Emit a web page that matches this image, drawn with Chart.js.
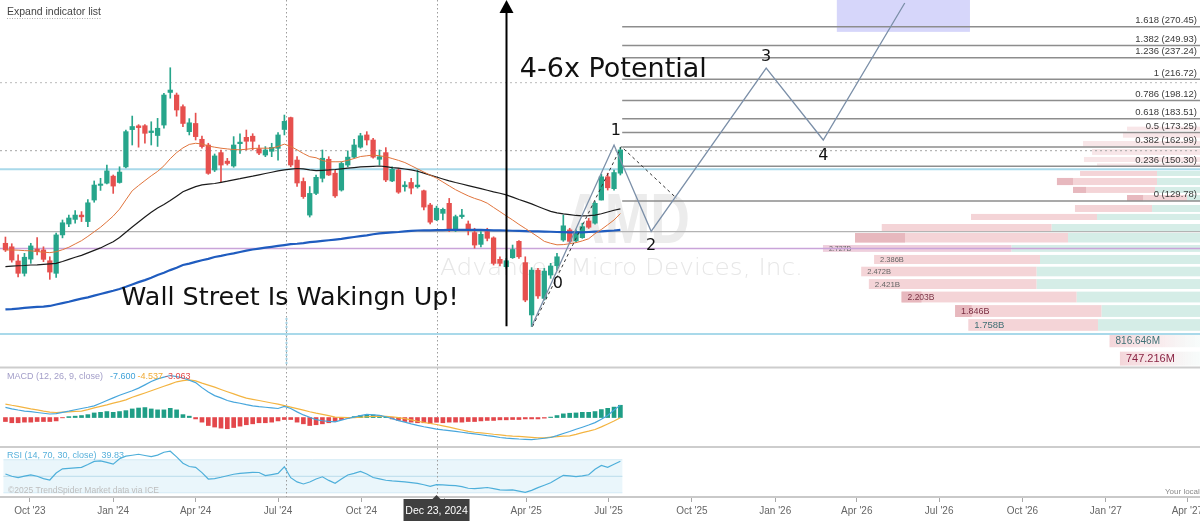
<!DOCTYPE html>
<html><head><meta charset="utf-8">
<script src="https://cdn.jsdelivr.net/npm/chart.js@4.4.1/dist/chart.umd.min.js"></script>
<style>html,body{margin:0;padding:0;background:#fff;overflow:hidden}</style>
</head><body>
<canvas id="c" width="1200" height="521"></canvas>
<script>
// ---------- DATA ----------
const FIRST_WEEK = '2023-09-04';   // weekly candles, Monday of each week
const OPEN = [108.6,107.0,100.8,95.7,101.6,106.0,105.6,100.9,95.7,112.5,117.8,120.1,122.3,119.0,130.3,138.6,139.9,144.1,140.3,149.8,175.3,178.1,178.2,173.1,171.0,178.7,205.0,202.8,193.1,173.8,179.9,168.3,164.3,147.9,159.1,153.5,150.4,165.2,169.7,170.5,161.7,157.5,160.0,162.0,175.4,184.4,154.2,140.9,122.3,134.0,142.8,154.7,145.9,135.9,151.0,156.1,162.8,171.4,167.8,154.7,159.1,141.2,147.9,137.8,140.3,137.8,135.5,127.6,119.9,123.2,128.5,114.9,121.5,117.8,113.6,108.1,114.1,111.1,101.5,98.4,102.2,109.5,100.1,80.3,97.0,86.1,95.0,98.8,110.1,114.9,109.7,111.2,119.3,118.2,130.3,143.7,136.7,145.9];
const HIGH = [111.5,108.4,103.4,104.1,108.6,111.2,107.0,102.6,113.4,119.8,122.3,124.6,124.1,130.6,141.2,142.8,151.0,144.8,149.9,175.0,185.6,179.0,179.0,181.2,183.8,204.2,227.5,204.5,194.5,183.6,187.9,170.5,165.5,158.2,160.9,155.3,170.2,172.3,175.0,172.3,164.3,163.2,165.5,173.1,186.4,184.8,156.4,143.0,137.9,144.8,160.9,156.4,147.9,153.0,160.3,168.3,172.6,173.8,168.9,160.9,162.5,149.9,149.0,140.8,142.8,147.9,135.9,128.5,127.0,125.9,131.2,122.3,125.3,119.3,115.7,114.1,115.7,111.6,102.6,101.9,107.8,109.8,102.6,98.0,97.7,97.7,99.8,104.1,122.3,115.7,114.9,118.2,120.6,129.4,145.2,145.9,147.9,162.7];
const LOW = [104.9,100.3,94.3,94.6,99.8,103.4,100.5,93.3,94.1,111.1,116.5,118.2,119.0,116.5,129.1,135.7,139.4,134.0,139.9,149.2,164.3,162.8,165.5,164.3,163.3,176.3,200.1,185.5,177.4,171.4,167.8,162.1,145.2,146.9,140.8,151.0,149.6,158.6,160.9,160.9,157.8,156.4,156.4,154.2,171.4,149.9,138.0,131.2,121.3,133.3,140.6,144.5,131.8,135.3,149.9,155.4,162.1,164.3,155.4,151.0,140.8,140.8,134.0,135.3,133.7,137.0,125.0,117.8,119.5,119.8,114.1,114.1,120.6,112.5,106.4,107.0,109.7,99.1,98.7,97.7,101.9,101.9,84.9,76.48,86.1,85.5,93.7,97.0,109.5,108.6,109.2,110.9,115.6,117.7,130.3,135.9,135.9,144.8];
const CLOSE = [105.6,101.2,95.7,102.4,107.4,104.9,101.5,96.2,112.5,118.4,120.8,122.3,121.4,128.8,138.8,139.4,147.3,138.2,146.6,173.8,177.6,176.8,172.6,174.3,176.3,202.8,207.1,190.4,179.9,180.4,170.2,163.2,145.8,156.9,151.0,152.0,164.3,166.3,166.9,166.9,158.8,160.9,162.7,171.4,181.5,151.0,140.0,132.2,134.0,143.4,155.4,144.8,132.6,152.0,156.1,164.3,170.8,167.8,156.1,156.4,141.8,148.3,134.7,138.8,137.0,138.8,126.5,118.7,125.9,125.3,114.9,121.5,122.3,114.9,107.8,112.8,110.9,99.8,99.8,100.9,105.8,102.6,85.5,97.0,87.0,96.6,98.7,102.6,116.9,109.5,114.1,116.5,116.2,128.5,143.7,137.2,146.3,160.9];
const MA_FAST = [105.6,105.6,105.5,105.3,105.2,104.9,104.6,104.4,104.8,105.7,106.8,108.3,109.8,111.8,114.0,116.2,118.9,121.8,125.4,130.4,135.5,138.5,141.4,144.3,147.0,150.5,155.1,159.1,162.3,164.7,165.5,165.0,163.6,162.8,162.1,161.6,161.2,161.0,161.4,161.9,162.1,162.1,162.1,163.3,164.9,163.3,161.0,158.5,156.4,155.7,153.9,153.1,153.1,153.1,154.0,155.2,156.5,157.0,157.5,157.0,156.4,155.2,154.0,152.6,150.6,148.6,146.6,144.7,142.9,140.6,138.3,136.1,134.3,132.6,131.2,130.1,128.6,126.3,124.1,121.9,119.8,117.6,115.6,113.6,111.6,109.5,108.6,107.9,108.0,108.4,108.9,109.7,110.7,113.1,115.1,117.4,119.8,123.1];
const MA_MID = [98.4,98.6,98.8,98.9,99.1,99.2,99.4,99.6,99.8,100.6,101.5,102.4,103.2,104.3,105.4,106.5,107.9,109.3,111.3,113.8,116.3,118.8,121.3,123.8,126.0,127.9,130.0,132.4,134.9,136.4,137.9,138.9,139.3,139.7,140.4,141.1,141.9,142.6,143.4,144.1,144.9,145.7,146.5,147.3,147.9,148.4,148.8,148.6,148.0,147.5,147.7,147.9,148.2,148.6,149.0,149.4,149.8,150.0,150.2,150.4,150.0,149.4,149.0,148.5,148.0,147.1,145.9,144.7,143.6,142.4,141.3,140.3,139.4,138.5,137.6,136.7,135.8,134.9,134.1,133.2,131.9,130.6,129.4,128.2,126.8,125.5,124.2,123.4,122.9,122.5,122.1,121.9,122.0,122.3,123.0,123.9,124.8,125.5];
const MA_SLOW = [82.2,82.3,82.5,82.7,82.9,83.1,83.2,83.4,83.9,84.4,84.9,85.5,86.0,86.5,87.1,87.7,88.3,88.9,89.6,90.4,91.3,92.2,93.0,93.9,95.0,95.9,97.0,98.0,99.1,99.7,100.4,101.1,101.7,102.5,103.0,103.6,104.1,104.7,105.3,105.8,106.2,106.6,107.0,107.4,107.8,108.2,108.4,108.7,109.1,109.4,109.7,110.0,110.3,110.6,111.1,111.5,111.9,112.3,112.8,113.2,113.5,113.7,113.9,114.2,114.4,114.6,114.7,114.7,114.8,114.8,114.9,114.9,114.9,114.9,114.9,114.9,114.8,114.7,114.7,114.6,114.5,114.4,114.3,114.2,114.2,114.1,114.0,113.9,113.8,113.7,113.7,113.7,113.9,114.1,114.2,114.4,114.6,114.9];
const MACD = [6.6,5.7,4.9,4.2,3.8,3.3,2.8,2.3,2.5,3.4,4.2,5.1,5.9,6.7,7.6,9.3,11.1,12.8,14.5,16.0,17.5,19.2,21.3,23.5,25.2,26.3,27.4,26.7,25.8,24.3,22.8,19.5,16.6,14.3,12.8,11.1,10.1,9.3,8.4,7.6,7.1,6.7,6.3,5.9,7.2,5.9,3.7,1.7,0.2,-1.4,-2.1,-2.5,-2.8,-1.7,-0.6,0.3,1.2,2.0,1.8,1.4,0.5,-0.7,-2.0,-3.0,-4.1,-5.1,-6.0,-6.7,-7.600,-8.1,-8.5,-9.0,-9.6,-10.2,-10.7,-11.2,-11.8,-12.3,-13.0,-13.4,-13.7,-14.0,-14.2,-14.4,-14.0,-13.5,-13.0,-11.8,-10.4,-9.1,-7.6,-6.3,-4.9,-3.3,-1.1,1.4,4.9,8.1];
const MACD_SIGNAL = [8.8,8.0,7.3,6.5,5.7,5.0,4.2,3.5,3.3,3.5,3.7,4.0,4.2,5.2,6.3,7.3,8.3,9.4,10.4,11.5,13.2,14.6,16.0,17.5,18.9,20.4,21.8,23.3,24.1,24.5,23.9,22.4,21.1,19.8,18.3,16.8,15.4,14.0,12.7,11.9,11.1,10.3,9.5,8.7,7.8,6.8,5.8,4.8,3.8,2.9,2.1,1.2,0.3,0.1,-0.1,-0.1,0.2,0.5,0.8,0.9,0.8,0.5,0.0,-0.7,-1.5,-2.4,-3.2,-3.9,-4.537,-5.4,-6.3,-7.2,-8.1,-9.0,-9.6,-10.0,-10.4,-10.9,-11.3,-11.8,-12.1,-12.3,-12.6,-12.9,-13.2,-13.2,-12.8,-12.5,-12.1,-11.9,-11.0,-9.8,-8.9,-7.8,-6.1,-4.2,-2.3,-0.1];
const MACD_HIST = [-2.6,-3.4,-3.4,-3.0,-3.0,-2.6,-2.6,-2.6,-2.2,-0.2,0.6,0.9,1.3,1.9,3.0,3.4,3.9,3.4,3.9,4.5,5.6,6.2,6.5,5.6,5.0,5.0,6.0,5.0,1.9,0.9,-0.9,-3.0,-5.2,-6.2,-6.9,-7.3,-6.5,-5.6,-4.7,-4.1,-3.4,-3.4,-3.0,-2.2,-1.3,-1.3,-3.0,-4.1,-5.2,-4.7,-4.1,-3.4,-2.6,-1.3,-0.4,0.6,1.3,1.7,1.7,1.3,0.6,-0.9,-1.9,-2.6,-3.0,-3.4,-3.4,-3.9,-3.063,-3.4,-3.0,-3.0,-3.0,-2.6,-2.6,-2.2,-1.9,-1.9,-1.5,-1.5,-1.3,-1.3,-0.9,-0.9,-0.9,-0.4,0.3,1.3,2.4,2.8,3.0,3.4,3.4,3.9,5.2,6.0,6.8,8.0];
const RSI = [52.8,50.0,48.3,50.2,51.8,50.1,47.2,45.5,54.0,59.0,59.6,60.2,60.8,64.3,68.1,68.6,66.9,64.7,71.2,74.4,75.5,76.7,75.2,73.8,75.6,79.1,80.4,73.6,65.9,61.9,60.9,54.5,46.7,47.2,48.8,50.7,52.5,53.6,54.2,54.8,54.6,50.8,52.1,53.5,61.5,48.3,43.2,40.7,43.1,46.7,49.4,45.0,41.6,46.8,51.6,53.6,55.8,52.7,48.5,46.8,45.2,44.4,43.8,43.2,42.4,41.5,39.7,37.9,39.83,39.6,39.1,38.7,37.5,35.5,35.0,35.7,36.4,35.0,33.5,33.2,33.6,32.1,30.6,32.9,36.2,39.1,42.1,46.6,51.2,50.6,49.6,50.6,51.8,58.6,63.1,60.9,64.5,68.2];
const CROSSHAIR_INDEX = 68;

const TICK_DATES = ['2023-10-01','2024-01-01','2024-04-01','2024-07-01','2024-10-01','2025-01-01','2025-04-01','2025-07-01','2025-10-01','2026-01-01','2026-04-01','2026-07-01','2026-10-01','2027-01-01','2027-04-01'];
const TICK_LABELS = ["Oct '23","Jan '24","Apr '24","Jul '24","Oct '24","Jan '25","Apr '25","Jul '25","Oct '25","Jan '26","Apr '26","Jul '26","Oct '26","Jan '27","Apr '27"];
const VIEW_DATES = ['2023-08-29','2027-04-15'];

const FIB_LEVELS = [0,0.236,0.382,0.5,0.618,0.786,1,1.236,1.382,1.618];
const FIB_PRICES = [129.78,150.30,162.99,173.25,183.51,198.12,216.72,237.24,249.93,270.45];
const FIB_START = '2025-07-16';

const HLINE_PRICES = [213.6,160.4,148.3,114.1,106.2,74.1];
const VLINE_DATES = ['2024-07-10','2024-12-23'];
const VMARK_PRICES = [79.3,64.9];

const WAVE_DATES = ['2025-04-07','2025-07-07','2025-08-17','2025-12-22','2026-02-23','2026-05-24'];
const WAVE_PRICES = [76.48,164.3,114.2,227.1,167.8,298.8];
const WAVE_LABELS = ['0','1','2','3','4','5'];
const WAVE_LABEL_DATES = ['2025-05-06','2025-07-09','2025-08-17','2025-12-22','2026-02-23','2026-05-24'];
const WAVE_LABEL_PRICES = [91.5,174.2,107.4,237.9,156.8,307.8];
const TREND_DATES = ['2025-04-08','2025-07-15','2025-09-14'];
const TREND_PRICES = [76.48,163.2,131.3];
const ARROW_DATE = '2025-03-10';
const ARROW_PRICES = [76.6,302.6];
const BOX_DATES = ['2026-03-10','2026-08-04'];
const BOX_PRICES = [264.6,400];
const NOTES = [['4-6x Potential','2025-03-25',218.8],['Wall Street Is Wakingn Up!','2024-01-10',83.7]];

// volume profile rows (price range, volume in billions)
const VP_HIGH = [177.5,172.8,167.1,161.6,156.2,152.0,147.3,143.0,137.7,133.1,127.6,122.9,117.8,113.4,107.8,103.4,98.4,93.4,88.6,83.7,78.9,73.8,68.8];
const VP_LOW  = [173.8,168.7,162.6,156.9,152.3,149.1,143.6,138.2,133.7,129.2,123.4,119.3,113.9,108.5,104.3,99.1,94.1,89.2,84.3,79.3,74.8,69.8,64.6];
const VP_TOTAL = [0.70,0.727,0.993,0.933,0.987,0.90,1.013,1.167,1.06,0.70,1.047,1.74,2.335,2.513,2.727,2.386,2.472,2.421,2.203,1.846,1.758,0.8166,0.7472];
const VP_BUY   = [0,0,0,0,0,0,0.50,0.50,0.513,0.30,0.533,0.90,1.202,1.093,1.469,1.28,1.302,1.302,1.035,0.869,0.893,0.435,0.393];
const VP_DARK  = [0,0,0,0,0,0,0,0.107,0.087,0.107,0,0,0,0.333,0,0,0,0,0.133,0.111,0,0,0];
const VP_LABELS = ['','','','','','','','','','','','','','','2.727B','2.386B','2.472B','2.421B','2.203B','1.846B','1.758B','816.646M','747.216M'];

// ---------- helpers ----------
const D0 = Date.UTC(2024,0,1);
const day = s => (Date.parse(s + 'T00:00:00Z') - D0) / 864e5;
const FIRST = day(FIRST_WEEK);
const WEEKS = CLOSE.map((_, i) => FIRST + 7 * i);
const pts = arr => arr.map((v, i) => ({x: WEEKS[i], y: v}));

const UP = '#27a58b', DN = '#e6504e';
const candleColor = c => CLOSE[c.dataIndex] >= OPEN[c.dataIndex] ? UP : DN;
const HLINE_STYLE = [
  {color:'#b9b9b9', width:1, dash:[2,3]},
  {color:'#a4a4a4', width:1, dash:[2,3]},
  {color:'#a9d9ea', width:2, dash:[]},
  {color:'#b3b3b3', width:1.2, dash:[]},
  {color:'#c9a4d9', width:1.5, dash:[]},
  {color:'#a9d9ea', width:2, dash:[]}
];
const VP_LABEL_STYLE = {
  '2.727B':[7,'#666'],'2.386B':[7.5,'#666'],'2.472B':[7.5,'#666'],'2.421B':[8,'#666'],
  '2.203B':[8.5,'#7a3344'],'1.846B':[9,'#7a2e42'],'1.758B':[9.5,'#3f6f74'],
  '816.646M':[10,'#3f6f74'],'747.216M':[11,'#8a2444']
};

const drawPlugin = {
  id: 'decor',
  beforeDatasetsDraw(chart) {
    const {ctx, chartArea: ca, scales} = chart;
    const X = v => scales.x.getPixelForValue(v);
    const P = v => scales.yP.getPixelForValue(v);
    const R = v => scales.yR.getPixelForValue(v);
    const V = v => scales.xVol.getPixelForValue(v);
    ctx.save();
    ctx.beginPath(); ctx.rect(ca.left, ca.top, ca.width, ca.height); ctx.clip();

    // watermark
    ctx.fillStyle = '#ececec';
    ctx.textBaseline = 'alphabetic'; ctx.textAlign = 'left';
    ctx.font = 'bold 70px "Liberation Sans"';
    let w = ctx.measureText('AMD').width;
    ctx.save(); ctx.translate(565, 243); ctx.scale(125 / w, 1); ctx.fillText('AMD', 0, 0); ctx.restore();
    ctx.fillStyle = '#e7e7e7';
    ctx.font = '300 23px "DejaVu Sans"';
    w = ctx.measureText('Advanced Micro Devices, Inc.').width;
    ctx.save(); ctx.translate(440, 275); ctx.scale(363 / w, 1); ctx.fillText('Advanced Micro Devices, Inc.', 0, 0); ctx.restore();

    // RSI band
    const bx0 = X(WEEKS[0]) - 2, bx1 = X(WEEKS[WEEKS.length - 1]) + 2;
    ctx.fillStyle = '#eaf6fb';
    ctx.fillRect(bx0, R(70), bx1 - bx0, R(30) - R(70));
    ctx.strokeStyle = '#d3ebf5'; ctx.lineWidth = 1;
    [70, 30].forEach(v => { ctx.beginPath(); ctx.moveTo(bx0, R(v)); ctx.lineTo(bx1, R(v)); ctx.stroke(); });
    ctx.strokeStyle = '#b9dceb';
    ctx.beginPath(); ctx.moveTo(bx0, R(50)); ctx.lineTo(bx1, R(50)); ctx.stroke();

    // volume profile
    for (let i = 0; i < VP_TOTAL.length; i++) {
      const yT = P(VP_HIGH[i]), yB = P(VP_LOW[i]);
      const h = yB - yT - 1;
      const xR = V(0), xL = V(VP_TOTAL[i]), xB = V(VP_BUY[i]);
      const faded = i >= 21, pale = VP_BUY[i] === 0;
      if (faded) {
        const g = ctx.createLinearGradient(xL, 0, ca.right, 0);
        g.addColorStop(0, 'rgba(240,200,205,0.75)');
        g.addColorStop(0.6, 'rgba(245,225,228,0.6)');
        g.addColorStop(1, 'rgba(230,244,241,0.3)');
        ctx.fillStyle = g; ctx.fillRect(xL, yT, xR - xL, h);
      } else {
        ctx.fillStyle = pale ? '#f8e6e8' : (i === 14 ? '#efcfdc' : '#f4d4d7');
        ctx.fillRect(xL, yT, xB - xL, h);
        if (VP_BUY[i] > 0) { ctx.fillStyle = '#d5ede7'; ctx.fillRect(xB, yT, xR - xB, h); }
        if (VP_DARK[i] > 0) { const xD = V(VP_TOTAL[i] - VP_DARK[i]); ctx.fillStyle = '#e7b8be'; ctx.fillRect(xL, yT, xD - xL, h); }
      }
      const lab = VP_LABELS[i];
      if (lab) {
        const st = VP_LABEL_STYLE[lab];
        ctx.fillStyle = st[1]; ctx.font = st[0] + 'px "Liberation Sans"';
        ctx.textBaseline = 'middle'; ctx.textAlign = 'left';
        ctx.fillText(lab, xL + 6, (yT + yB) / 2);
      }
    }

    // vertical dotted markers
    ctx.strokeStyle = '#9c9c9c'; ctx.lineWidth = 1; ctx.setLineDash([1.5, 2.5]);
    VLINE_DATES.forEach(d => { const x = Math.round(X(day(d))) + 0.5; ctx.beginPath(); ctx.moveTo(x, ca.top); ctx.lineTo(x, ca.bottom); ctx.stroke(); });
    ctx.strokeStyle = '#a3d3e6'; ctx.lineWidth = 2; ctx.setLineDash([2, 2]);
    { const x = Math.round(X(day(VLINE_DATES[0]))) + 0.5; ctx.beginPath(); ctx.moveTo(x, P(VMARK_PRICES[0])); ctx.lineTo(x, P(VMARK_PRICES[1])); ctx.stroke(); }
    ctx.setLineDash([]);

    // horizontal levels
    HLINE_PRICES.forEach((p, i) => {
      const st = HLINE_STYLE[i];
      ctx.strokeStyle = st.color; ctx.lineWidth = st.width; ctx.setLineDash(st.dash);
      const y = P(p);
      ctx.beginPath(); ctx.moveTo(ca.left, y); ctx.lineTo(ca.right, y); ctx.stroke();
    });
    ctx.setLineDash([]);

    // target box
    ctx.fillStyle = 'rgba(200,200,248,0.75)';
    const bxa = X(day(BOX_DATES[0])), bxb = X(day(BOX_DATES[1]));
    ctx.fillRect(bxa, P(BOX_PRICES[1]), bxb - bxa, P(BOX_PRICES[0]) - P(BOX_PRICES[1]));

    // fib levels
    const fx = X(day(FIB_START));
    ctx.strokeStyle = '#8d8d8d'; ctx.lineWidth = 1.5;
    ctx.font = '9.5px "Liberation Sans"'; ctx.fillStyle = '#3a3a3a';
    ctx.textAlign = 'right'; ctx.textBaseline = 'alphabetic';
    FIB_LEVELS.forEach((lv, i) => {
      const y = P(FIB_PRICES[i]);
      ctx.beginPath(); ctx.moveTo(fx, y); ctx.lineTo(ca.right, y); ctx.stroke();
      ctx.fillText(lv + ' (' + FIB_PRICES[i].toFixed(2) + ')', ca.right - 3, y - 3.5);
    });
    ctx.restore();
  },
  afterDatasetsDraw(chart) {
    const {ctx, chartArea: ca, scales} = chart;
    const X = v => scales.x.getPixelForValue(v);
    const P = v => scales.yP.getPixelForValue(v);
    ctx.save();
    ctx.beginPath(); ctx.rect(ca.left, ca.top, ca.width, ca.height); ctx.clip();

    // dashed trend
    ctx.strokeStyle = '#333'; ctx.lineWidth = 1; ctx.setLineDash([3, 3]);
    ctx.beginPath();
    TREND_DATES.forEach((d, i) => { const x = X(day(d)), y = P(TREND_PRICES[i]); i ? ctx.lineTo(x, y) : ctx.moveTo(x, y); });
    ctx.stroke(); ctx.setLineDash([]);
    // wave path
    ctx.strokeStyle = '#7b8fa8'; ctx.lineWidth = 1.3;
    ctx.beginPath();
    WAVE_DATES.forEach((d, i) => { const x = X(day(d)), y = P(WAVE_PRICES[i]); i ? ctx.lineTo(x, y) : ctx.moveTo(x, y); });
    ctx.stroke();
    ctx.fillStyle = '#111'; ctx.font = '16px "DejaVu Sans"'; ctx.textAlign = 'center'; ctx.textBaseline = 'middle';
    WAVE_LABELS.forEach((t, i) => ctx.fillText(t, X(day(WAVE_LABEL_DATES[i])), P(WAVE_LABEL_PRICES[i])));

    // arrow
    const ax = Math.round(X(day(ARROW_DATE))) + 0.5, ay0 = P(ARROW_PRICES[0]), ay1 = P(ARROW_PRICES[1]);
    ctx.strokeStyle = '#000'; ctx.lineWidth = 2;
    ctx.beginPath(); ctx.moveTo(ax, ay0); ctx.lineTo(ax, ay1 + 10); ctx.stroke();
    ctx.fillStyle = '#000';
    ctx.beginPath(); ctx.moveTo(ax, ay1); ctx.lineTo(ax - 7, ay1 + 13); ctx.lineTo(ax + 7, ay1 + 13); ctx.closePath(); ctx.fill();

    // notes
    ctx.textAlign = 'left'; ctx.textBaseline = 'alphabetic'; ctx.fillStyle = '#111';
    ctx.font = '27px "DejaVu Sans"';
    ctx.fillText(NOTES[0][0], X(day(NOTES[0][1])), P(NOTES[0][2]));
    ctx.font = '25.4px "DejaVu Sans"';
    ctx.fillText(NOTES[1][0], X(day(NOTES[1][1])), P(NOTES[1][2]));
    ctx.restore();
  },
  afterDraw(chart) {
    const {ctx, chartArea: ca, scales} = chart;
    const X = v => scales.x.getPixelForValue(v);
    ctx.save();
    // pane separators
    ctx.strokeStyle = '#cdcdcd'; ctx.lineWidth = 2;
    [367.5, 447].forEach(y => { ctx.beginPath(); ctx.moveTo(ca.left, y); ctx.lineTo(ca.right, y); ctx.stroke(); });

    ctx.textAlign = 'left'; ctx.textBaseline = 'middle';
    // header
    ctx.font = '10.5px "Liberation Sans"'; ctx.fillStyle = '#444';
    ctx.fillText('Expand indicator list', 7, 12.5);
    const hw = ctx.measureText('Expand indicator list').width;
    ctx.strokeStyle = '#aaa'; ctx.lineWidth = 1; ctx.setLineDash([1, 1.5]);
    ctx.beginPath(); ctx.moveTo(7, 18.5); ctx.lineTo(7 + hw, 18.5); ctx.stroke(); ctx.setLineDash([]);

    // MACD legend
    ctx.font = '9px "Liberation Sans"';
    let x = 7;
    const seg = (t, c, gap) => { ctx.fillStyle = c; ctx.fillText(t, x, 377); x += ctx.measureText(t).width + gap; };
    seg('MACD (12, 26, 9, close)', '#a29dc8', 7);
    seg(MACD[CROSSHAIR_INDEX].toFixed(3), '#3fa2d8', 2);
    seg(MACD_SIGNAL[CROSSHAIR_INDEX].toFixed(3), '#f0aa35', 2);
    seg(MACD_HIST[CROSSHAIR_INDEX].toFixed(3), '#e24a4a', 0);
    // RSI legend
    x = 7;
    ctx.fillStyle = '#58b1db';
    ctx.fillText('RSI (14, 70, 30, close)', x, 456);
    x += ctx.measureText('RSI (14, 70, 30, close)').width + 5;
    ctx.fillText(RSI[CROSSHAIR_INDEX].toFixed(2), x, 456);

    // footer texts
    ctx.font = '8.5px "Liberation Sans"'; ctx.fillStyle = '#bdbdbd';
    ctx.fillText('\u00a92025 TrendSpider Market data via ICE', 8, 491);
    ctx.fillStyle = '#8a8a8a'; ctx.font = '8px "Liberation Sans"';
    ctx.fillText('Your local time', 1165, 492);

    // crosshair date label
    const cx = X(WEEKS[CROSSHAIR_INDEX]);
    ctx.fillStyle = '#3f3f3f';
    ctx.fillRect(cx - 33, 499, 66, 22);
    ctx.beginPath(); ctx.moveTo(cx - 4, 499); ctx.lineTo(cx + 4, 499); ctx.lineTo(cx, 495); ctx.closePath(); ctx.fill();
    ctx.fillStyle = '#fff'; ctx.font = '10.5px "Liberation Sans"'; ctx.textAlign = 'center';
    const dd = new Date(D0 + WEEKS[CROSSHAIR_INDEX] * 864e5);
    const MON = ['Jan','Feb','Mar','Apr','May','Jun','Jul','Aug','Sep','Oct','Nov','Dec'];
    ctx.fillText(MON[dd.getUTCMonth()] + ' ' + dd.getUTCDate() + ', ' + dd.getUTCFullYear(), cx, 511);
    ctx.restore();
  }
};

const barCommon = {grouped: false, xAxisID: 'x'};
new Chart(document.getElementById('c'), {
  type: 'bar',
  data: {
    datasets: [
      {...barCommon, type: 'bar', data: WEEKS.map((x, i) => ({x, y: [LOW[i], HIGH[i]]})), yAxisID: 'yP', backgroundColor: candleColor, barThickness: 1, order: 21},
      {...barCommon, type: 'bar', data: WEEKS.map((x, i) => ({x, y: [OPEN[i], CLOSE[i]]})), yAxisID: 'yP', backgroundColor: candleColor, barThickness: 4.6, minBarLength: 1, order: 20},
      {type: 'line', data: pts(MA_SLOW), yAxisID: 'yP', borderColor: '#1f5cbf', borderWidth: 2.2, pointRadius: 0, order: 3},
      {type: 'line', data: pts(MA_MID), yAxisID: 'yP', borderColor: '#1b1b1b', borderWidth: 1.2, pointRadius: 0, order: 2},
      {type: 'line', data: pts(MA_FAST), yAxisID: 'yP', borderColor: '#e0743c', borderWidth: 1, pointRadius: 0, order: 1},
      {...barCommon, type: 'bar', data: pts(MACD_HIST), yAxisID: 'yM', backgroundColor: c => MACD_HIST[c.dataIndex] >= 0 ? '#1f9e86' : '#e3474b', barThickness: 4, order: 12},
      {type: 'line', data: pts(MACD_SIGNAL), yAxisID: 'yM', borderColor: '#f3b441', borderWidth: 1.2, pointRadius: 0, order: 5},
      {type: 'line', data: pts(MACD), yAxisID: 'yM', borderColor: '#47a6dc', borderWidth: 1.2, pointRadius: 0, order: 4},
      {type: 'line', data: pts(RSI), yAxisID: 'yR', borderColor: '#4eafda', borderWidth: 1.2, pointRadius: 0, order: 4}
    ]
  },
  options: {
    responsive: false, animation: false, events: [], devicePixelRatio: 1,
    layout: {padding: 0},
    plugins: {legend: {display: false}, tooltip: {enabled: false}},
    scales: {
      x: {
        type: 'linear', position: 'bottom', offset: false, bounds: 'data',
        min: day(VIEW_DATES[0]), max: day(VIEW_DATES[1]),
        afterBuildTicks: s => { s.ticks = TICK_DATES.map(d => ({value: day(d)})); },
        afterFit: s => { s.height = 24; s.paddingLeft = 0; s.paddingRight = 0; },
        ticks: {autoSkip: false, maxRotation: 0, minRotation: 0, padding: 3, color: '#666',
          font: {family: 'Liberation Sans', size: 10},
          callback: (v, i) => TICK_LABELS[i] || ''},
        grid: {display: true, drawOnChartArea: false, drawTicks: true, tickLength: 5, color: '#a8a8a8', offset: false},
        border: {display: true, color: '#c9c9c9', width: 2}
      },
      xVol: {type: 'linear', axis: 'x', display: false, reverse: true, min: 0.2133, max: 8.2133, bounds: 'data', offset: false},
      yP: {type: 'logarithmic', display: false, min: 37.30, max: 302.61, bounds: 'data', beginAtZero: false},
      yM: {type: 'linear', display: false, min: -51.8, max: 272.2, bounds: 'data', beginAtZero: false},
      yR: {type: 'linear', display: false, min: 24.9, max: 627.3, bounds: 'data', beginAtZero: false}
    }
  },
  plugins: [drawPlugin]
});
</script>
</body></html>
